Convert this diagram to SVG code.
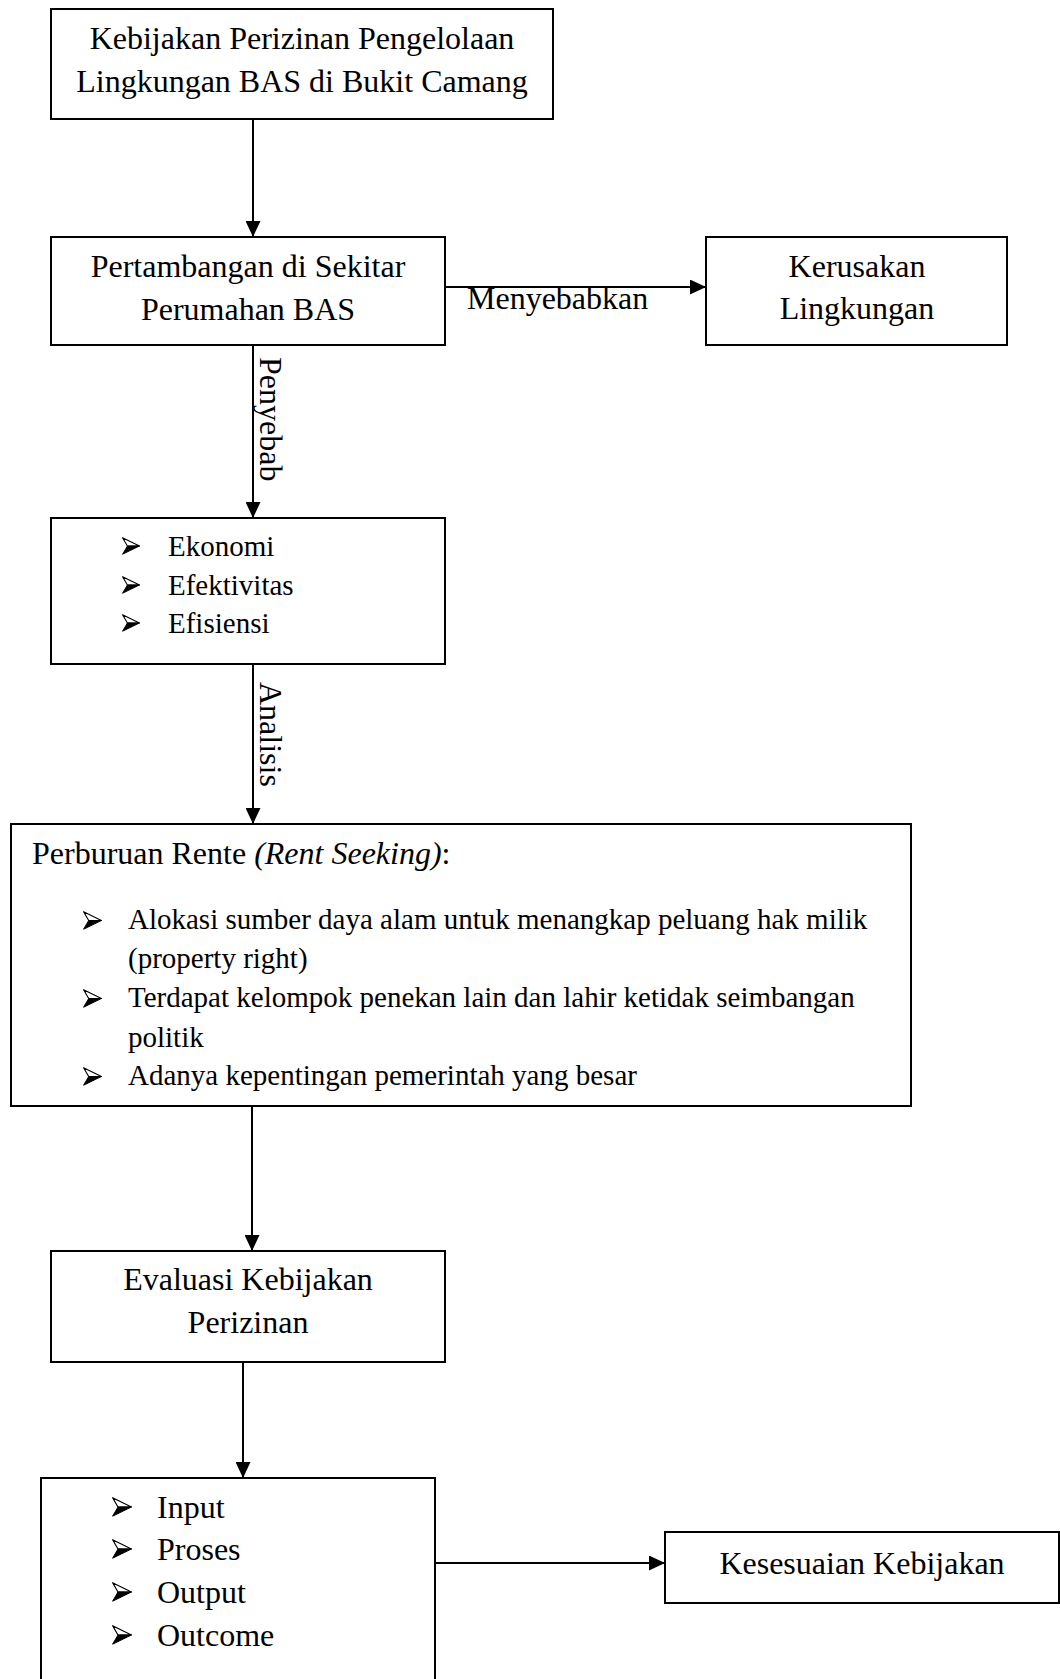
<svg xmlns="http://www.w3.org/2000/svg" xmlns:xlink="http://www.w3.org/1999/xlink" width="1060" height="1679" viewBox="0 0 1060 1679">
<style>
.box{fill:#fff;stroke:#000;stroke-width:2}
.t{font-family:"Liberation Serif","Times New Roman",serif;font-size:32px;fill:#000}
.s{font-family:"Liberation Serif","Times New Roman",serif;font-size:29px;fill:#000}
.c{text-anchor:middle}
.ln{fill:none;stroke:#000;stroke-width:2;marker-end:url(#ah)}
</style>
<defs>
<marker id="ah" markerUnits="userSpaceOnUse" markerWidth="16" markerHeight="15" refX="16" refY="7.5" orient="auto">
<path d="M0,0 L16,7.5 L0,15 z" fill="#000"/>
</marker>
<symbol id="bul" viewBox="0 0 20 20">
<polygon points="0.6,0.8 19.4,10 6,10" fill="#fff" stroke="#000" stroke-width="1.2" stroke-linejoin="round"/>
<polygon points="6,10 19.4,10 0.6,19.2" fill="#000" stroke="#000" stroke-width="1"/>
</symbol>
</defs>
<rect width="1060" height="1679" fill="#fff"/>
<g id="connectors">
<line class="ln" x1="253" y1="120" x2="253" y2="237"/>
<line class="ln" x1="445" y1="287" x2="706" y2="287"/>
<line class="ln" x1="253" y1="345" x2="253" y2="518"/>
<line class="ln" x1="253" y1="664" x2="253" y2="824"/>
<line class="ln" x1="252" y1="1106" x2="252" y2="1251"/>
<line class="ln" x1="243" y1="1362" x2="243" y2="1478"/>
<line class="ln" x1="435" y1="1563" x2="665" y2="1563" stroke-width="2.5"/>
<text class="t" x="467" y="309">Menyebabkan</text>
<text class="t" transform="translate(260,357) rotate(90)">Penyebab</text>
<text class="t" transform="translate(260,682) rotate(90)">Analisis</text>
</g>
<g id="n1">
<rect class="box" x="51" y="9" width="502" height="110"/>
<text class="t c" x="302" y="49">Kebijakan Perizinan Pengelolaan</text>
<text class="t c" x="302" y="92">Lingkungan BAS di Bukit Camang</text>
</g>
<g id="n2">
<rect class="box" x="51" y="237" width="394" height="108"/>
<text class="t c" x="248" y="277">Pertambangan di Sekitar</text>
<text class="t c" x="248" y="320">Perumahan BAS</text>
</g>
<g id="n3">
<rect class="box" x="706" y="237" width="301" height="108"/>
<text class="t c" x="857" y="277">Kerusakan</text>
<text class="t c" x="857" y="319">Lingkungan</text>
</g>
<g id="n4">
<rect class="box" x="51" y="518" width="394" height="146"/>
<use xlink:href="#bul" x="122" y="537" width="18" height="18"/>
<text class="s" x="168" y="556">Ekonomi</text>
<use xlink:href="#bul" x="122" y="576" width="18" height="18"/>
<text class="s" x="168" y="595">Efektivitas</text>
<use xlink:href="#bul" x="122" y="614" width="18" height="18"/>
<text class="s" x="168" y="633">Efisiensi</text>
</g>
<g id="n5">
<rect class="box" x="11" y="824" width="900" height="282"/>
<text class="t" x="32" y="864">Perburuan Rente <tspan font-style="italic">(Rent Seeking)</tspan>:</text>
<use xlink:href="#bul" x="83" y="911" width="19" height="19"/>
<text class="s" x="128" y="929">Alokasi sumber daya alam untuk menangkap peluang hak milik</text>
<text class="s" x="128" y="968">(property right)</text>
<use xlink:href="#bul" x="83" y="989" width="19" height="19"/>
<text class="s" x="128" y="1007">Terdapat kelompok penekan lain dan lahir ketidak seimbangan</text>
<text class="s" x="128" y="1047">politik</text>
<use xlink:href="#bul" x="83" y="1067" width="19" height="19"/>
<text class="s" x="128" y="1085">Adanya kepentingan pemerintah yang besar</text>
</g>
<g id="n6">
<rect class="box" x="51" y="1251" width="394" height="111"/>
<text class="t c" x="248" y="1290">Evaluasi Kebijakan</text>
<text class="t c" x="248" y="1333">Perizinan</text>
</g>
<g id="n7">
<rect class="box" x="41" y="1478" width="394" height="240"/>
<use xlink:href="#bul" x="112" y="1497" width="20" height="20"/>
<text class="t" x="157" y="1518">Input</text>
<use xlink:href="#bul" x="112" y="1539" width="20" height="20"/>
<text class="t" x="157" y="1560">Proses</text>
<use xlink:href="#bul" x="112" y="1582" width="20" height="20"/>
<text class="t" x="157" y="1603">Output</text>
<use xlink:href="#bul" x="112" y="1625" width="20" height="20"/>
<text class="t" x="157" y="1646">Outcome</text>
</g>
<g id="n8">
<rect class="box" x="665" y="1532" width="394" height="71"/>
<text class="t c" x="862" y="1574">Kesesuaian Kebijakan</text>
</g>
</svg>
